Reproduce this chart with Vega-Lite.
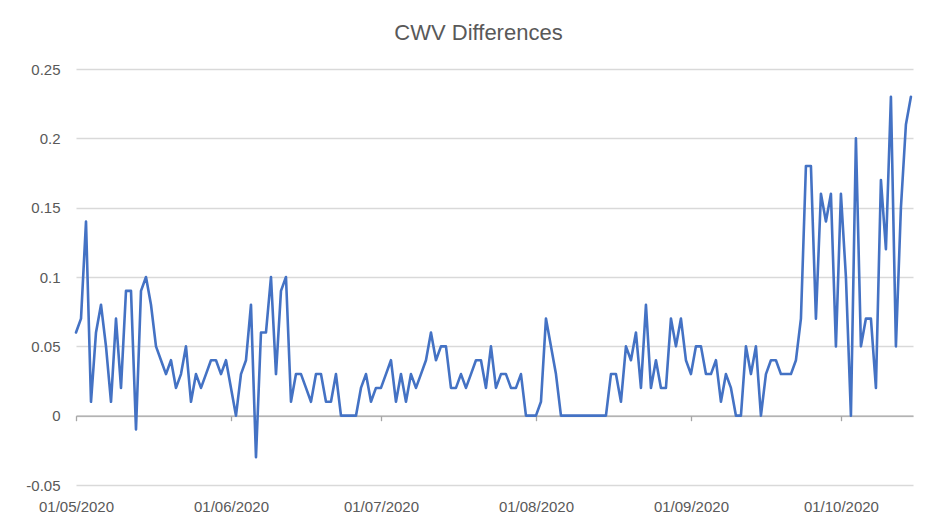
{
  "$schema": "https://vega.github.io/schema/vega-lite/v6.json",
  "width": 837,
  "height": 416,
  "autosize": {"type": "none"},
  "padding": {"left": 76, "top": 69, "right": 19, "bottom": 42},
  "background": "white",
  "config": {"view": {"stroke": null}},
  "title": {
    "text": "CWV Differences",
    "font": "Liberation Sans",
    "fontSize": 22,
    "fontWeight": "normal",
    "color": "#595959",
    "anchor": "middle",
    "frame": "group",
    "dx": -16,
    "offset": 17
  },
  "data": {
    "values": [
      {"d": "2020-05-01", "v": 0.06}, {"d": "2020-05-02", "v": 0.07}, {"d": "2020-05-03", "v": 0.14}, {"d": "2020-05-04", "v": 0.01},
      {"d": "2020-05-05", "v": 0.06}, {"d": "2020-05-06", "v": 0.08}, {"d": "2020-05-07", "v": 0.05}, {"d": "2020-05-08", "v": 0.01},
      {"d": "2020-05-09", "v": 0.07}, {"d": "2020-05-10", "v": 0.02}, {"d": "2020-05-11", "v": 0.09}, {"d": "2020-05-12", "v": 0.09},
      {"d": "2020-05-13", "v": -0.01}, {"d": "2020-05-14", "v": 0.09}, {"d": "2020-05-15", "v": 0.10}, {"d": "2020-05-16", "v": 0.08},
      {"d": "2020-05-17", "v": 0.05}, {"d": "2020-05-18", "v": 0.04}, {"d": "2020-05-19", "v": 0.03}, {"d": "2020-05-20", "v": 0.04},
      {"d": "2020-05-21", "v": 0.02}, {"d": "2020-05-22", "v": 0.03}, {"d": "2020-05-23", "v": 0.05}, {"d": "2020-05-24", "v": 0.01},
      {"d": "2020-05-25", "v": 0.03}, {"d": "2020-05-26", "v": 0.02}, {"d": "2020-05-27", "v": 0.03}, {"d": "2020-05-28", "v": 0.04},
      {"d": "2020-05-29", "v": 0.04}, {"d": "2020-05-30", "v": 0.03}, {"d": "2020-05-31", "v": 0.04},
      {"d": "2020-06-01", "v": 0.02}, {"d": "2020-06-02", "v": 0}, {"d": "2020-06-03", "v": 0.03}, {"d": "2020-06-04", "v": 0.04},
      {"d": "2020-06-05", "v": 0.08}, {"d": "2020-06-06", "v": -0.03}, {"d": "2020-06-07", "v": 0.06}, {"d": "2020-06-08", "v": 0.06},
      {"d": "2020-06-09", "v": 0.10}, {"d": "2020-06-10", "v": 0.03}, {"d": "2020-06-11", "v": 0.09}, {"d": "2020-06-12", "v": 0.10},
      {"d": "2020-06-13", "v": 0.01}, {"d": "2020-06-14", "v": 0.03}, {"d": "2020-06-15", "v": 0.03}, {"d": "2020-06-16", "v": 0.02},
      {"d": "2020-06-17", "v": 0.01}, {"d": "2020-06-18", "v": 0.03}, {"d": "2020-06-19", "v": 0.03}, {"d": "2020-06-20", "v": 0.01},
      {"d": "2020-06-21", "v": 0.01}, {"d": "2020-06-22", "v": 0.03}, {"d": "2020-06-23", "v": 0}, {"d": "2020-06-24", "v": 0},
      {"d": "2020-06-25", "v": 0}, {"d": "2020-06-26", "v": 0}, {"d": "2020-06-27", "v": 0.02}, {"d": "2020-06-28", "v": 0.03},
      {"d": "2020-06-29", "v": 0.01}, {"d": "2020-06-30", "v": 0.02},
      {"d": "2020-07-01", "v": 0.02}, {"d": "2020-07-02", "v": 0.03}, {"d": "2020-07-03", "v": 0.04}, {"d": "2020-07-04", "v": 0.01},
      {"d": "2020-07-05", "v": 0.03}, {"d": "2020-07-06", "v": 0.01}, {"d": "2020-07-07", "v": 0.03}, {"d": "2020-07-08", "v": 0.02},
      {"d": "2020-07-09", "v": 0.03}, {"d": "2020-07-10", "v": 0.04}, {"d": "2020-07-11", "v": 0.06}, {"d": "2020-07-12", "v": 0.04},
      {"d": "2020-07-13", "v": 0.05}, {"d": "2020-07-14", "v": 0.05}, {"d": "2020-07-15", "v": 0.02}, {"d": "2020-07-16", "v": 0.02},
      {"d": "2020-07-17", "v": 0.03}, {"d": "2020-07-18", "v": 0.02}, {"d": "2020-07-19", "v": 0.03}, {"d": "2020-07-20", "v": 0.04},
      {"d": "2020-07-21", "v": 0.04}, {"d": "2020-07-22", "v": 0.02}, {"d": "2020-07-23", "v": 0.05}, {"d": "2020-07-24", "v": 0.02},
      {"d": "2020-07-25", "v": 0.03}, {"d": "2020-07-26", "v": 0.03}, {"d": "2020-07-27", "v": 0.02}, {"d": "2020-07-28", "v": 0.02},
      {"d": "2020-07-29", "v": 0.03}, {"d": "2020-07-30", "v": 0}, {"d": "2020-07-31", "v": 0},
      {"d": "2020-08-01", "v": 0}, {"d": "2020-08-02", "v": 0.01}, {"d": "2020-08-03", "v": 0.07}, {"d": "2020-08-04", "v": 0.05},
      {"d": "2020-08-05", "v": 0.03}, {"d": "2020-08-06", "v": 0}, {"d": "2020-08-07", "v": 0}, {"d": "2020-08-08", "v": 0},
      {"d": "2020-08-09", "v": 0}, {"d": "2020-08-10", "v": 0}, {"d": "2020-08-11", "v": 0}, {"d": "2020-08-12", "v": 0},
      {"d": "2020-08-13", "v": 0}, {"d": "2020-08-14", "v": 0}, {"d": "2020-08-15", "v": 0}, {"d": "2020-08-16", "v": 0.03},
      {"d": "2020-08-17", "v": 0.03}, {"d": "2020-08-18", "v": 0.01}, {"d": "2020-08-19", "v": 0.05}, {"d": "2020-08-20", "v": 0.04},
      {"d": "2020-08-21", "v": 0.06}, {"d": "2020-08-22", "v": 0.02}, {"d": "2020-08-23", "v": 0.08}, {"d": "2020-08-24", "v": 0.02},
      {"d": "2020-08-25", "v": 0.04}, {"d": "2020-08-26", "v": 0.02}, {"d": "2020-08-27", "v": 0.02}, {"d": "2020-08-28", "v": 0.07},
      {"d": "2020-08-29", "v": 0.05}, {"d": "2020-08-30", "v": 0.07}, {"d": "2020-08-31", "v": 0.04},
      {"d": "2020-09-01", "v": 0.03}, {"d": "2020-09-02", "v": 0.05}, {"d": "2020-09-03", "v": 0.05}, {"d": "2020-09-04", "v": 0.03},
      {"d": "2020-09-05", "v": 0.03}, {"d": "2020-09-06", "v": 0.04}, {"d": "2020-09-07", "v": 0.01}, {"d": "2020-09-08", "v": 0.03},
      {"d": "2020-09-09", "v": 0.02}, {"d": "2020-09-10", "v": 0}, {"d": "2020-09-11", "v": 0}, {"d": "2020-09-12", "v": 0.05},
      {"d": "2020-09-13", "v": 0.03}, {"d": "2020-09-14", "v": 0.05}, {"d": "2020-09-15", "v": 0}, {"d": "2020-09-16", "v": 0.03},
      {"d": "2020-09-17", "v": 0.04}, {"d": "2020-09-18", "v": 0.04}, {"d": "2020-09-19", "v": 0.03}, {"d": "2020-09-20", "v": 0.03},
      {"d": "2020-09-21", "v": 0.03}, {"d": "2020-09-22", "v": 0.04}, {"d": "2020-09-23", "v": 0.07}, {"d": "2020-09-24", "v": 0.18},
      {"d": "2020-09-25", "v": 0.18}, {"d": "2020-09-26", "v": 0.07}, {"d": "2020-09-27", "v": 0.16}, {"d": "2020-09-28", "v": 0.14},
      {"d": "2020-09-29", "v": 0.16}, {"d": "2020-09-30", "v": 0.05},
      {"d": "2020-10-01", "v": 0.16}, {"d": "2020-10-02", "v": 0.10}, {"d": "2020-10-03", "v": 0}, {"d": "2020-10-04", "v": 0.20},
      {"d": "2020-10-05", "v": 0.05}, {"d": "2020-10-06", "v": 0.07}, {"d": "2020-10-07", "v": 0.07}, {"d": "2020-10-08", "v": 0.02},
      {"d": "2020-10-09", "v": 0.17}, {"d": "2020-10-10", "v": 0.12}, {"d": "2020-10-11", "v": 0.23}, {"d": "2020-10-12", "v": 0.05},
      {"d": "2020-10-13", "v": 0.15}, {"d": "2020-10-14", "v": 0.21}, {"d": "2020-10-15", "v": 0.23}
    ]
  },
  "mark": {"type": "line", "color": "#4472C4", "strokeWidth": 2.6, "strokeJoin": "round", "strokeCap": "round"},
  "encoding": {
    "x": {
      "field": "d",
      "type": "temporal",
      "scale": {
        "type": "utc",
        "domain": [
          {"year": 2020, "month": 5, "date": 1, "utc": true},
          {"year": 2020, "month": 10, "date": 15, "hours": 10, "utc": true}
        ],
        "nice": false
      },
      "axis": {
        "title": null,
        "values": [
          {"year": 2020, "month": 5, "date": 1, "utc": true},
          {"year": 2020, "month": 6, "date": 1, "utc": true},
          {"year": 2020, "month": 7, "date": 1, "utc": true},
          {"year": 2020, "month": 8, "date": 1, "utc": true},
          {"year": 2020, "month": 9, "date": 1, "utc": true},
          {"year": 2020, "month": 10, "date": 1, "utc": true}
        ],
        "format": "%d/%m/%Y",
        "grid": false,
        "offset": -69.3,
        "domain": true,
        "domainColor": "#a6a6a6",
        "domainWidth": 1.3,
        "ticks": true,
        "tickColor": "#a6a6a6",
        "tickWidth": 1.3,
        "tickSize": 5,
        "labelPadding": 79,
        "labelFlush": false,
        "labelOverlap": false,
        "labelFont": "Liberation Sans",
        "labelFontSize": 15,
        "labelColor": "#595959"
      }
    },
    "y": {
      "field": "v",
      "type": "quantitative",
      "scale": {"domain": [-0.05, 0.25], "nice": false, "zero": false},
      "axis": {
        "title": null,
        "values": [-0.05, 0, 0.05, 0.1, 0.15, 0.2, 0.25],
        "format": ".2~f",
        "labelExpr": "replace(datum.label, '\u2212', '-')",
        "domain": false,
        "ticks": false,
        "grid": true,
        "gridColor": "#d9d9d9",
        "gridWidth": 1.3,
        "labelPadding": 16,
        "labelFont": "Liberation Sans",
        "labelFontSize": 15,
        "labelColor": "#595959"
      }
    }
  }
}
